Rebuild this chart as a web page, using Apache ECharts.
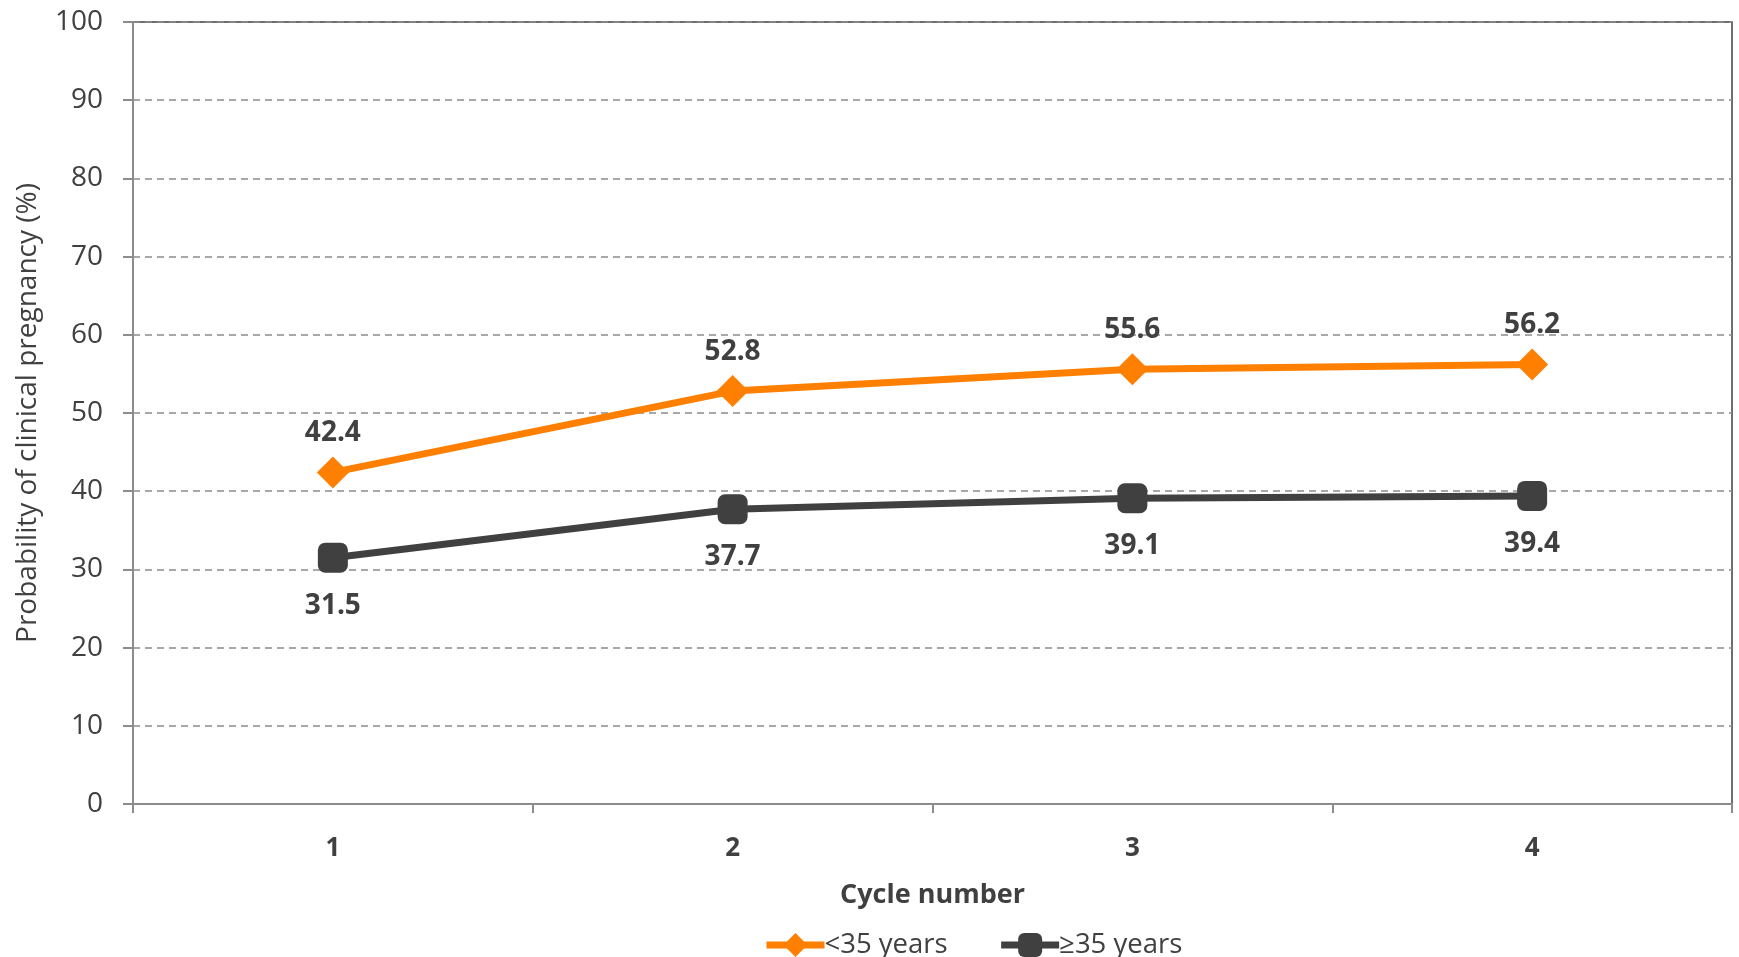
<!DOCTYPE html>
<html>
<head>
<meta charset="utf-8">
<script src="https://cdn.jsdelivr.net/npm/echarts@6/dist/echarts.min.js"></script>
<style>
  html, body { margin: 0; padding: 0; background: #fff; }
  #chart { width: 1739px; height: 957px; }
</style>
</head>
<body>
<div id="chart"></div>
<script>
// Cumulative probability of clinical pregnancy by IVF cycle number, split by age group
const cycles = ['1', '2', '3', '4'];
const under35 = [42.4, 52.8, 55.6, 56.2];
const over35 = [31.5, 37.7, 39.1, 39.4];
const yTicks = [0, 10, 20, 30, 40, 50, 60, 70, 80, 90, 100];
const seriesNames = ['<35 years', '\u226535 years'];

const FONT = '"Open Sans", Lato, sans-serif';
const TEXT = '#404040';
const ORANGE = '#FF7F00';
const DARK = '#404040';

const chart = echarts.init(document.getElementById('chart'), null, { renderer: 'canvas' });

chart.setOption({
  animation: false,
  textStyle: { fontFamily: FONT, color: TEXT },
  grid: {
    left: 133, right: 7, top: 22, bottom: 153,
    outerBoundsMode: 'none',
    containLabel: false,
    show: true, borderColor: '#404040', borderWidth: 1.5, backgroundColor: 'transparent'
  },
  legend: {
    left: 758, top: 926,
    itemWidth: 58, itemHeight: 30, itemGap: 50,
    lineStyle: { width: 7 },
    textStyle: { fontFamily: FONT, fontSize: 27.5, color: TEXT, padding: [0, 0, 0, -5] },
    data: seriesNames
  },
  xAxis: {
    type: 'category',
    data: cycles,
    boundaryGap: true,
    name: 'Cycle number',
    nameLocation: 'middle',
    nameGap: 78,
    nameTextStyle: { fontFamily: FONT, fontSize: 27, fontWeight: 'bold', color: TEXT },
    axisLine: { lineStyle: { color: '#8c8c8c', width: 2 } },
    axisTick: { show: true, length: 9, lineStyle: { color: '#8c8c8c', width: 2 } },
    axisLabel: { margin: 32, fontFamily: FONT, fontSize: 26, fontWeight: 'bold', color: TEXT },
    splitLine: { show: false }
  },
  yAxis: {
    type: 'value',
    min: yTicks[0],
    max: yTicks[yTicks.length - 1],
    interval: 10,
    name: 'Probability of clinical pregnancy (%)',
    nameLocation: 'middle',
    nameRotate: 90,
    nameGap: 91,
    nameTextStyle: { fontFamily: FONT, fontSize: 28, color: TEXT },
    axisLine: { show: true, lineStyle: { color: '#8c8c8c', width: 2 } },
    axisTick: { show: true, length: 10, lineStyle: { color: '#8c8c8c', width: 2 } },
    axisLabel: { margin: 30, fontFamily: FONT, fontSize: 28, color: TEXT },
    splitLine: { show: true, lineStyle: { color: '#8c8c8c', width: 1.5, type: [7, 5] } }
  },
  series: [
    {
      name: seriesNames[0],
      type: 'line',
      data: under35,
      symbol: 'diamond',
      symbolSize: 32,
      showAllSymbol: true,
      lineStyle: { color: ORANGE, width: 7 },
      itemStyle: { color: ORANGE },
      label: {
        show: true, position: 'top', distance: 9,
        fontFamily: FONT, fontSize: 28, fontWeight: 'bold', color: TEXT,
        formatter: p => p.value.toFixed(1)
      },
      z: 3
    },
    {
      name: seriesNames[1],
      type: 'line',
      data: over35,
      symbol: 'roundRect',
      symbolSize: 30,
      showAllSymbol: true,
      lineStyle: { color: DARK, width: 7 },
      itemStyle: { color: DARK },
      label: {
        show: true, position: 'bottom', distance: 19,
        fontFamily: FONT, fontSize: 28, fontWeight: 'bold', color: TEXT,
        formatter: p => p.value.toFixed(1)
      },
      z: 3
    }
  ]
});
</script>
</body>
</html>
